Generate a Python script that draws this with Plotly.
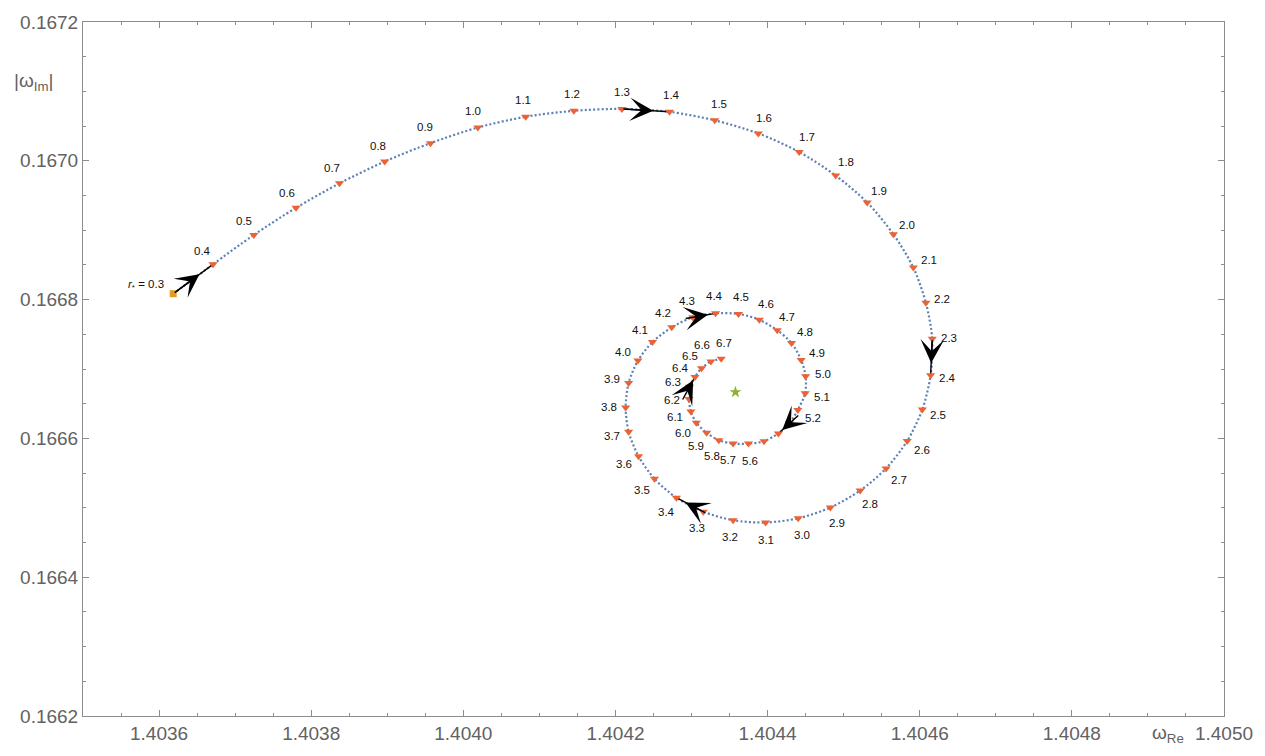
import math
import plotly.graph_objects as go

# ---------------- data ----------------
r_labels = ["0.3", "0.4", "0.5", "0.6", "0.7", "0.8", "0.9", "1.0", "1.1", "1.2",
            "1.3", "1.4", "1.5", "1.6", "1.7", "1.8", "1.9", "2.0", "2.1", "2.2",
            "2.3", "2.4", "2.5", "2.6", "2.7", "2.8", "2.9", "3.0", "3.1", "3.2",
            "3.3", "3.4", "3.5", "3.6", "3.7", "3.8", "3.9", "4.0", "4.1", "4.2",
            "4.3", "4.4", "4.5", "4.6", "4.7", "4.8", "4.9", "5.0", "5.1", "5.2",
            "5.3", "5.4", "5.5", "5.6", "5.7", "5.8", "5.9", "6.0", "6.1", "6.2",
            "6.3", "6.4", "6.5", "6.6", "6.7"]

omega_re = [1.4036186, 1.4036709, 1.4037246, 1.4037801, 1.4038372, 1.4038966, 1.4039568,
            1.4040191, 1.4040820, 1.4041453, 1.4042085, 1.4042710, 1.4043306, 1.4043878,
            1.4044415, 1.4044895, 1.4045309, 1.4045654, 1.4045916, 1.4046081, 1.4046165,
            1.4046143, 1.4046034, 1.4045835, 1.4045558, 1.4045217, 1.4044825, 1.4044402,
            1.4043974, 1.4043547, 1.4043155, 1.4042801, 1.4042513, 1.4042304, 1.4042173,
            1.4042134, 1.4042173, 1.4042295, 1.4042487, 1.4042740, 1.4043016, 1.4043316,
            1.4043617, 1.4043891, 1.4044127, 1.4044314, 1.4044441, 1.4044500, 1.4044494,
            1.4044398, 1.4044288, 1.4044142, 1.4043953, 1.4043748, 1.4043547, 1.4043359,
            1.4043198, 1.4043063, 1.4042992, 1.4042966, 1.4042975, 1.4043045, 1.4043132,
            1.4043254, 1.4043390]

omega_im = [0.1668085, 0.1668508, 0.1668932, 0.1669323, 0.1669675, 0.1669990, 0.1670254,
            0.1670480, 0.1670635, 0.1670720, 0.1670748, 0.1670706, 0.1670583, 0.1670395,
            0.1670127, 0.1669788, 0.1669400, 0.1668941, 0.1668462, 0.1667953, 0.1667435,
            0.1666909, 0.1666415, 0.1665963, 0.1665568, 0.1665248, 0.1665004, 0.1664848,
            0.1664788, 0.1664820, 0.1664943, 0.1665145, 0.1665417, 0.1665742, 0.1666095,
            0.1666447, 0.1666800, 0.1667121, 0.1667389, 0.1667600, 0.1667746, 0.1667802,
            0.1667794, 0.1667709, 0.1667558, 0.1667375, 0.1667131, 0.1666895, 0.1666651,
            0.1666411, 0.1666217, 0.1666072, 0.1665959, 0.1665925, 0.1665925, 0.1665973,
            0.1666080, 0.1666227, 0.1666387, 0.1666566, 0.1666744, 0.1666885, 0.1667012,
            0.1667107, 0.1667149]

# labels not shown in the reference
hidden_labels = ["5.3", "5.4", "5.5"]
# segments carrying a direction arrow (start label)
arrow_starts = ["0.3", "1.3", "2.3", "3.3", "4.3", "5.3", "6.3"]

center_re = [1.4043577]
center_im = [0.1666667]

x_range = [1.4035, 1.4050]
y_range = [0.1662, 0.1672]
x_ticks = [1.4036, 1.4038, 1.4040, 1.4042, 1.4044, 1.4046, 1.4048, 1.4050]
x_tick_text = ["1.4036", "1.4038", "1.4040", "1.4042", "1.4044", "1.4046", "1.4048", "1.4050"]
y_ticks = [0.1662, 0.1664, 0.1666, 0.1668, 0.1670, 0.1672]
y_tick_text = ["0.1662", "0.1664", "0.1666", "0.1668", "0.1670", "0.1672"]

# ---------------- style ----------------
W, H = 1265, 756
MARG = dict(l=83, r=36, t=14, b=33)
BLUE = "#5E81B5"
RED = "#EB6235"
ORANGE = "#E19C24"
GREEN = "#8FB032"
FRAME = "#8c8c8c"
TICKTXT = "#626262"
FONT = "Liberation Sans, Arial, sans-serif"
LABEL_OFF = 17
# small extra pixel nudges so that neighbouring callouts do not collide
label_nudge = {"6.7": (7, 1), "5.7": (-3, 0), "6.6": (-1, -1)}
MIN_ARROW_PX = 24  # minimal shaft length so the head is always drawn

n = len(r_labels)
sx = (W - MARG["l"] - MARG["r"]) / (x_range[1] - x_range[0])
sy = (H - MARG["t"] - MARG["b"]) / (y_range[1] - y_range[0])

fig = go.Figure()

# dotted trajectory
fig.add_trace(go.Scatter(
    x=omega_re, y=omega_im, mode="lines",
    line=dict(color=BLUE, width=2.2, dash="2px,2.2px", shape="spline", smoothing=0.8),
    hoverinfo="skip", showlegend=False))

# black arrow shafts
sx_list, sy_list = [], []
for lab in arrow_starts:
    i = r_labels.index(lab)
    sx_list += [omega_re[i], omega_re[i + 1], None]
    sy_list += [omega_im[i], omega_im[i + 1], None]
fig.add_trace(go.Scatter(x=sx_list, y=sy_list, mode="lines",
                         line=dict(color="black", width=1.4),
                         hoverinfo="skip", showlegend=False))

# triangles
fig.add_trace(go.Scatter(
    x=omega_re[1:], y=omega_im[1:], mode="markers",
    marker=dict(symbol="triangle-down", color=RED, size=8, line=dict(width=0)),
    showlegend=False))
# start square
fig.add_trace(go.Scatter(
    x=omega_re[:1], y=omega_im[:1], mode="markers",
    marker=dict(symbol="square", color=ORANGE, size=7, line=dict(width=0)),
    showlegend=False))
# centre star
fig.add_trace(go.Scatter(
    x=center_re, y=center_im, mode="markers",
    marker=dict(symbol="star", color=GREEN, size=9, line=dict(width=0)),
    showlegend=False))

annotations = []
# point labels, pushed outward along the local normal of the curve
for i in range(1, n):
    lab = r_labels[i]
    if lab in hidden_labels:
        continue
    j0, j1 = max(i - 1, 0), min(i + 1, n - 1)
    tx = (omega_re[j1] - omega_re[j0]) * sx
    ty = -(omega_im[j1] - omega_im[j0]) * sy
    L = math.hypot(tx, ty)
    tx, ty = tx / L, ty / L
    nx, ny = ty, -tx  # outward normal in screen coordinates
    dx, dy = label_nudge.get(lab, (0, 0))
    annotations.append(dict(
        x=omega_re[i], y=omega_im[i], xref="x", yref="y", text=lab,
        showarrow=False, xshift=LABEL_OFF * nx + dx, yshift=-LABEL_OFF * ny - dy,
        font=dict(family=FONT, size=11.5, color="#111111")))

annotations.append(dict(
    x=omega_re[0], y=omega_im[0], xref="x", yref="y",
    text="<i>r</i><sub>*</sub> = 0.3", showarrow=False,
    xanchor="right", xshift=-7, yshift=9,
    font=dict(family=FONT, size=11.5, color="#111111")))

# arrowheads
for lab in arrow_starts:
    i = r_labels.index(lab)
    f = 0.66
    dxd = omega_re[i + 1] - omega_re[i]
    dyd = omega_im[i + 1] - omega_im[i]
    seg_px = math.hypot(dxd * sx, dyd * sy)
    tip_x = omega_re[i] + f * dxd
    tip_y = omega_im[i] + f * dyd
    back = max(f, MIN_ARROW_PX / seg_px)
    annotations.append(dict(
        x=tip_x, y=tip_y, ax=tip_x - back * dxd, ay=tip_y - back * dyd,
        xref="x", yref="y", axref="x", ayref="y", text="",
        showarrow=True, arrowhead=3, arrowsize=2.7, arrowwidth=1.45,
        arrowcolor="black", standoff=0, startstandoff=0))

# axis labels
annotations.append(dict(
    x=-0.043, y=0.913, xref="paper", yref="paper", text="|ω<sub>Im</sub>|",
    showarrow=False, xanchor="center", yanchor="middle",
    font=dict(family=FONT, size=19, color=TICKTXT)))
annotations.append(dict(
    x=0.935, y=-0.046, xref="paper", yref="paper", text="ω<sub>Re</sub>",
    showarrow=False, xanchor="left", yanchor="bottom",
    font=dict(family=FONT, size=19, color=TICKTXT)))

axis_common = dict(
    showgrid=False, zeroline=False, showline=True, linecolor=FRAME, linewidth=1,
    mirror="ticks", ticks="inside", ticklen=6, tickwidth=1, tickcolor=FRAME,
    tickfont=dict(family=FONT, size=19, color=TICKTXT),
)

fig.update_layout(
    width=W, height=H, margin=MARG,
    paper_bgcolor="white", plot_bgcolor="white",
    showlegend=False,
    xaxis=dict(range=x_range, tickmode="array", tickvals=x_ticks, ticktext=x_tick_text,
               minor=dict(ticks="inside", ticklen=3, tickcolor=FRAME, tickmode="linear",
                          tick0=1.4035, dtick=0.00005, showgrid=False),
               **axis_common),
    yaxis=dict(range=y_range, tickmode="array", tickvals=y_ticks, ticktext=y_tick_text,
               minor=dict(ticks="inside", ticklen=3, tickcolor=FRAME, tickmode="linear",
                          tick0=0.1662, dtick=0.00005, showgrid=False),
               **axis_common),
    annotations=annotations,
)

fig.write_html("out.html", config={"displayModeBar": False},
               post_script="document.body.style.margin='0';")
